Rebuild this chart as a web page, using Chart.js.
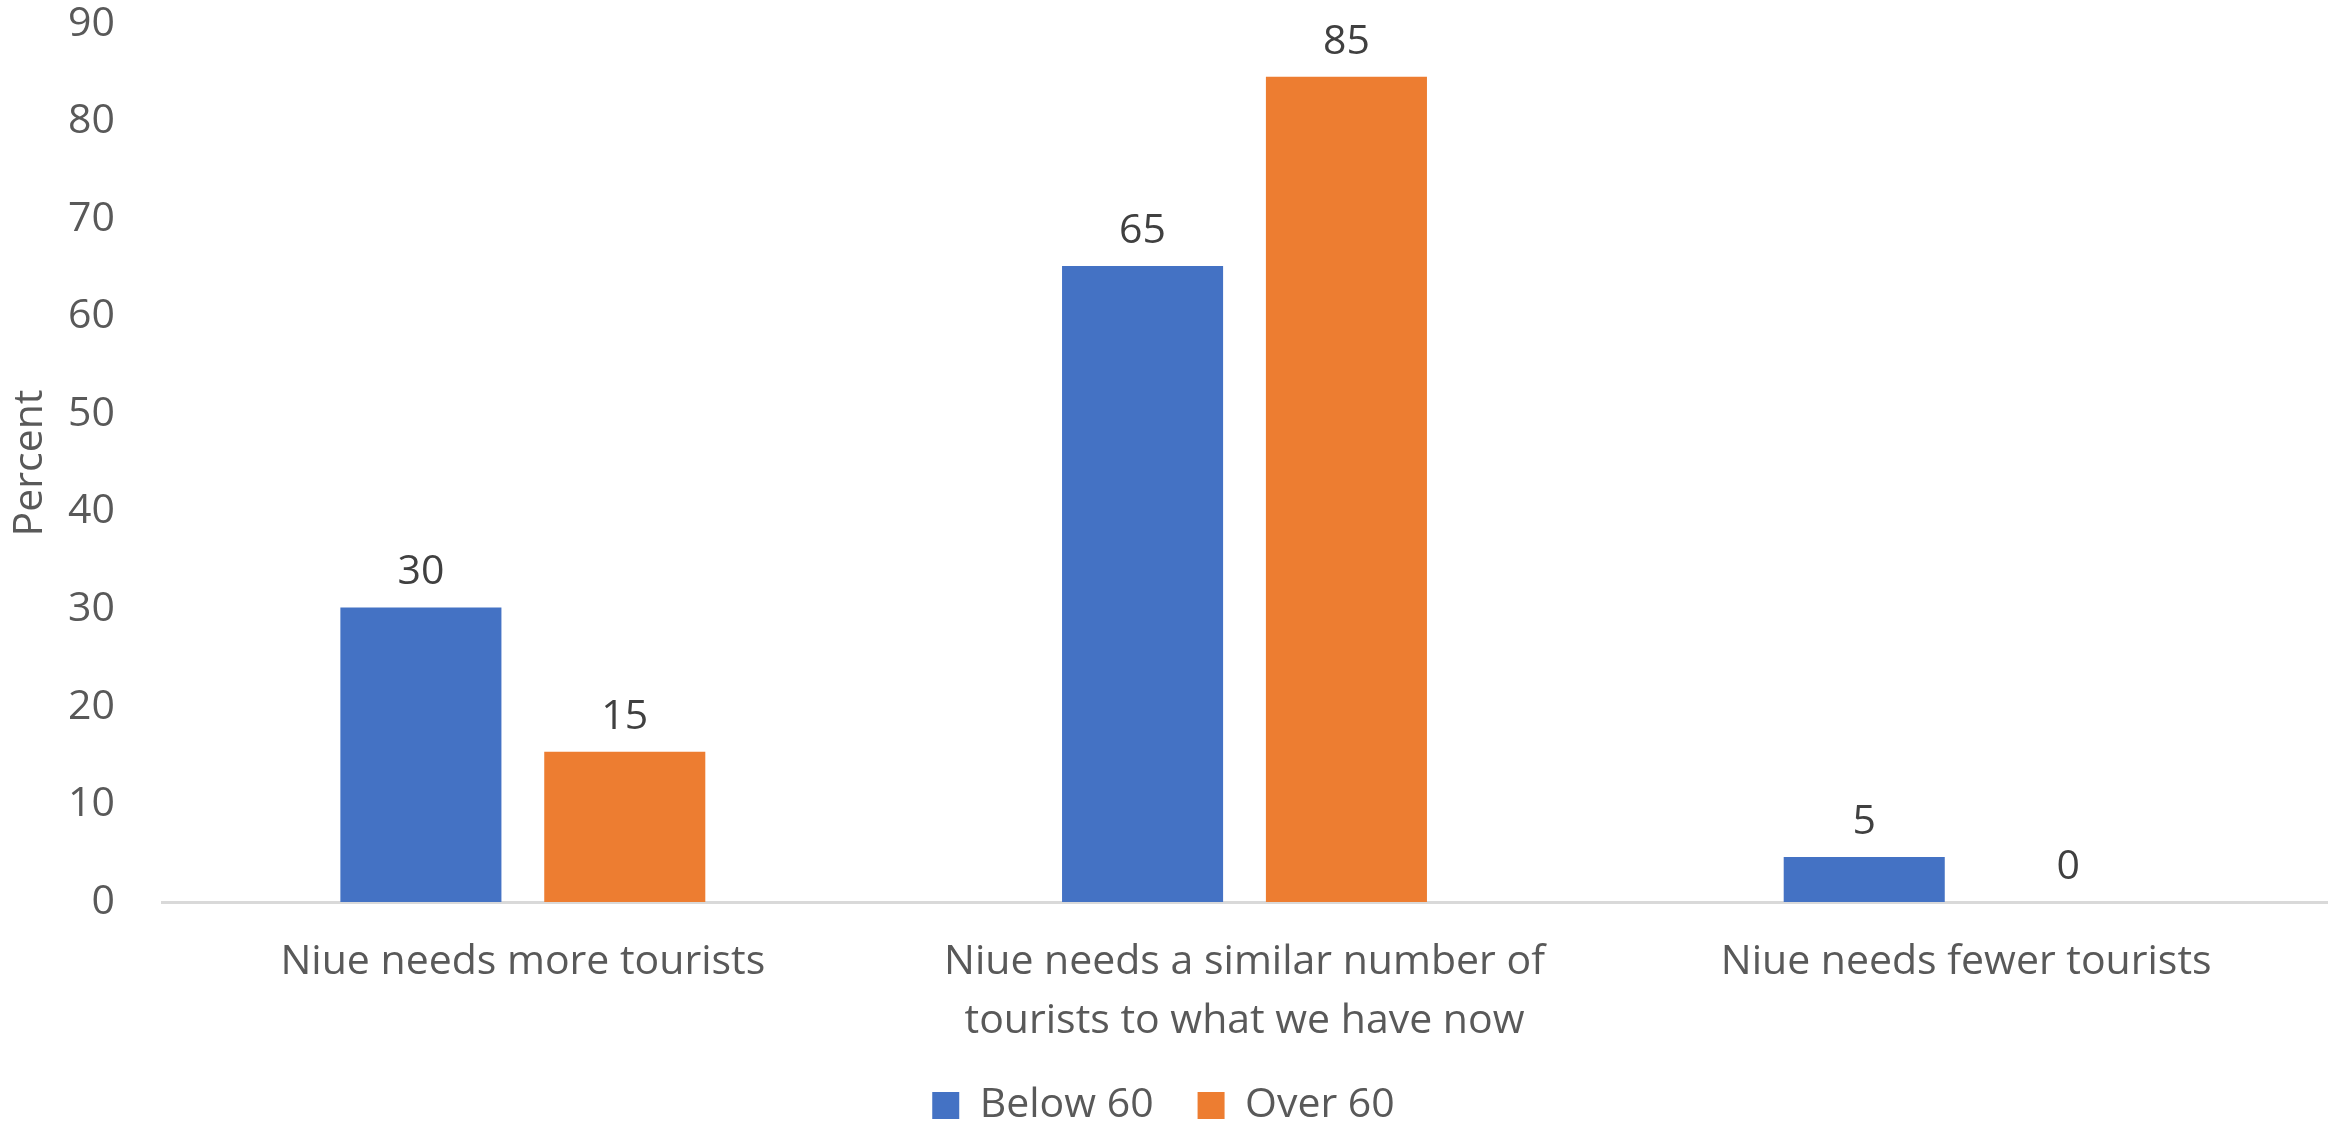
<!DOCTYPE html>
<html>
<head>
<meta charset="utf-8">
<script src="https://cdn.jsdelivr.net/npm/chart.js@4.4.1/dist/chart.umd.min.js"></script>
<style>
  html, body { margin: 0; padding: 0; background: #fff; }
  #wrap { width: 2346px; height: 1122px; }
</style>
</head>
<body>
<div id="wrap"><canvas id="chart" width="2346" height="1122"></canvas></div>
<script>
const categories = [
    ['Niue needs more tourists'],
    ['Niue needs a similar number of', 'tourists to what we have now'],
    ['Niue needs fewer tourists']
];
const seriesNames = ['Below 60', 'Over 60'];
const below60 = [30.2, 65.2, 4.6];
const over60 = [15.4, 84.6, 0];
const yTicks = [0, 10, 20, 30, 40, 50, 60, 70, 80, 90];

const FONT = "'Open Sans', 'Noto Sans', sans-serif";
const SIZE = 41;

// etiquetas de datos encima de cada barra
const etiquetas = {
    id: 'etiquetas',
    afterDatasetsDraw(chart) {
        const ctx = chart.ctx;
        ctx.save();
        ctx.font = `${SIZE}px ${FONT}`;
        ctx.fillStyle = '#404040';
        ctx.textAlign = 'center';
        ctx.textBaseline = 'alphabetic';
        chart.data.datasets.forEach((ds, i) => {
            chart.getDatasetMeta(i).data.forEach((bar, j) => {
                ctx.fillText(String(Math.round(ds.data[j])), bar.x, bar.y - 23);
            });
        });
        ctx.restore();
    }
};

// la leyenda queda pegada al borde inferior, como en el original
const leyendaAjuste = {
    id: 'leyendaAjuste',
    beforeLayout(chart) {
        const lg = chart.legend;
        if (lg && !lg._ajustado) {
            const fit = lg.fit;
            lg.fit = function () { fit.call(this); this.height = 81; };
            lg._ajustado = true;
        }
    }
};

new Chart(document.getElementById('chart').getContext('2d'), {
    type: 'bar',
    data: {
        labels: categories,
        datasets: [
            { label: seriesNames[0], data: below60, backgroundColor: '#4472C4',
              categoryPercentage: 0.565, barPercentage: 0.79 },
            { label: seriesNames[1], data: over60, backgroundColor: '#ED7D31',
              categoryPercentage: 0.565, barPercentage: 0.79 }
        ]
    },
    options: {
        responsive: false,
        animation: false,
        devicePixelRatio: 1,
        layout: { padding: { top: 6, right: 19, bottom: 0, left: 0 } },
        plugins: {
            legend: {
                position: 'bottom',
                labels: {
                    font: { family: FONT, size: SIZE },
                    color: '#595959',
                    boxWidth: 27,
                    boxHeight: 27,
                    padding: 44
                }
            },
            tooltip: { enabled: false }
        },
        scales: {
            x: {
                grid: { display: false, drawTicks: false },
                border: { display: true, color: '#D9D9D9', width: 3 },
                ticks: {
                    font: { family: FONT, size: SIZE, lineHeight: 1.46 },
                    color: '#595959',
                    padding: 30,
                    maxRotation: 0,
                    autoSkip: false
                },
                afterFit(axis) { axis.height = 139; }
            },
            y: {
                min: 0,
                max: 90,
                afterBuildTicks(axis) { axis.ticks = yTicks.map(v => ({ value: v })); },
                grid: { display: false, drawTicks: false },
                border: { display: false },
                ticks: {
                    font: { family: FONT, size: SIZE },
                    color: '#595959',
                    padding: 47
                },
                title: {
                    display: true,
                    text: 'Percent',
                    font: { family: FONT, size: SIZE },
                    color: '#595959',
                    padding: { top: 6, bottom: 15 }
                },
                afterFit(axis) {
                    axis.width = 162;
                    axis.paddingTop = 24;
                    axis.paddingBottom = 24;
                }
            }
        }
    },
    plugins: [etiquetas, leyendaAjuste]
});
</script>
</body>
</html>
